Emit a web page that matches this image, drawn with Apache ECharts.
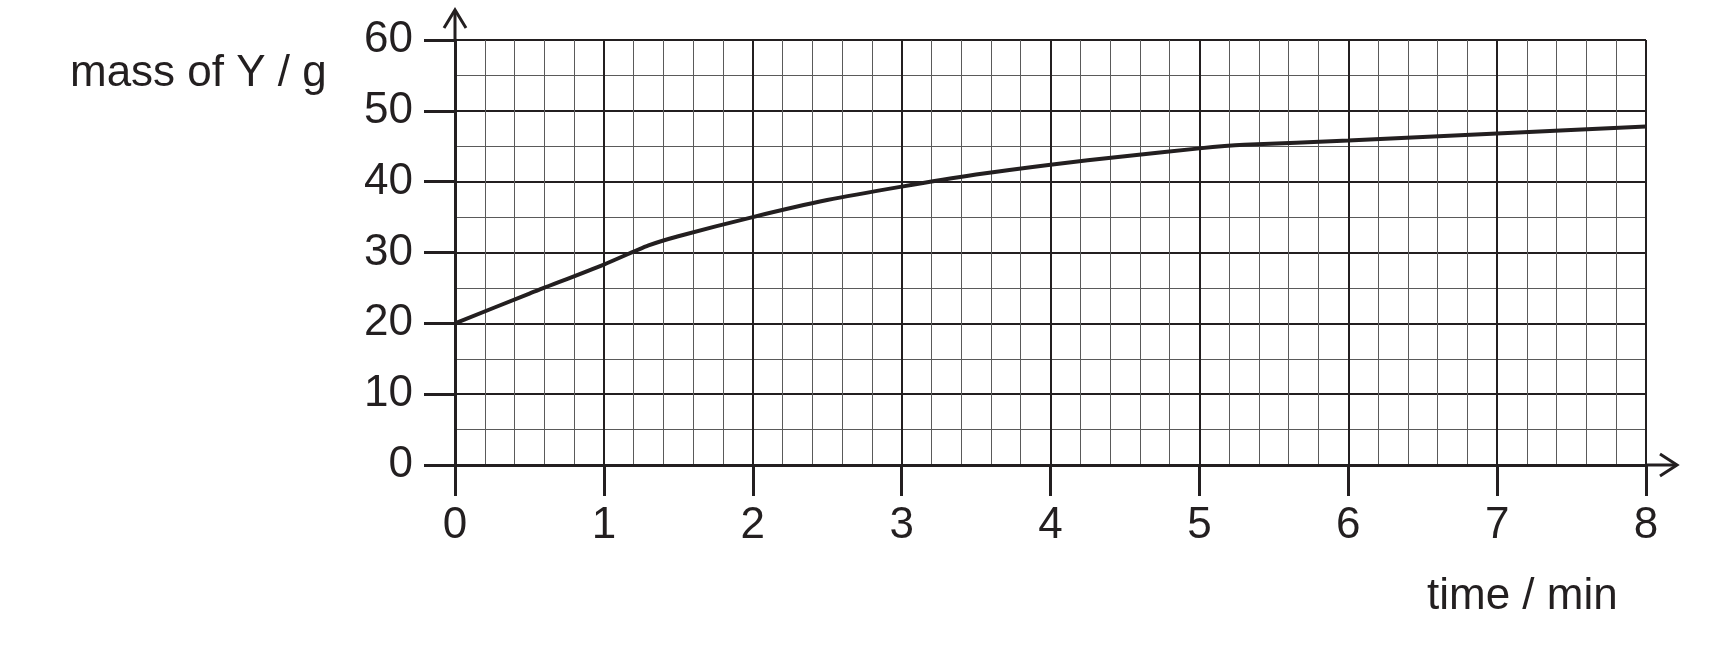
<!DOCTYPE html>
<html>
<head>
<meta charset="utf-8">
<script src="https://cdn.jsdelivr.net/npm/echarts@6/dist/echarts.min.js"></script>
<style>
html,body{margin:0;padding:0;background:#fff;}
#chart{width:1730px;height:668px;}
</style>
</head>
<body>
<div id="chart"></div>
<script>
const timeMin = [0, 0.5, 1, 1.3, 1.5, 2, 2.5, 3, 3.5, 4, 4.5, 5, 5.3, 6, 7, 8];
const massY   = [20, 24.2, 28.3, 31, 32.3, 35, 37.4, 39.3, 41.0, 42.4, 43.6, 44.7, 45.2, 45.8, 46.8, 47.8];
const xTicks = [0, 1, 2, 3, 4, 5, 6, 7, 8];
const yTicks = [0, 10, 20, 30, 40, 50, 60];
const yAxisTitle = 'mass of Y / g';
const xAxisTitle = 'time / min';

(function () {
const ink = '#231f20';
const font = 'Liberation Sans, Arial, sans-serif';

const chart = echarts.init(document.getElementById('chart'), null, {renderer: 'canvas'});

const axisCommon = {
  type: 'value',
  axisLine: {show: true, onZero: false, lineStyle: {color: ink, width: 3}},
  axisTick: {show: true, length: 31, lineStyle: {color: ink, width: 3}},
  axisLabel: {color: ink, fontSize: 44, fontFamily: font},
  splitLine: {show: true, lineStyle: {color: ink, width: 2}},
  minorTick: {show: false},
  minorSplitLine: {show: true, lineStyle: {color: '#5a5a5a', width: 1}}
};

chart.setOption({
  animation: false,
  backgroundColor: '#fff',
  grid: {left: 455, right: 84, top: 40, bottom: 203, containLabel: false},
  xAxis: Object.assign({}, axisCommon, {
    min: xTicks[0], max: xTicks[xTicks.length - 1], interval: 1,
    minorTick: {show: false, splitNumber: 5},
    axisLabel: Object.assign({}, axisCommon.axisLabel, {margin: 39})
  }),
  yAxis: Object.assign({}, axisCommon, {
    min: yTicks[0], max: yTicks[yTicks.length - 1], interval: 10,
    minorTick: {show: false, splitNumber: 2},
    axisLabel: Object.assign({}, axisCommon.axisLabel, {margin: 42})
  }),
  series: [{
    type: 'line',
    data: timeMin.map((t, i) => [t, massY[i]]),
    showSymbol: false,
    smooth: 0.25,
    lineStyle: {color: ink, width: 4},
    z: 5
  }]
});

const pTop = chart.convertToPixel({gridIndex: 0}, [0, yTicks[yTicks.length - 1]]);
const pRight = chart.convertToPixel({gridIndex: 0}, [xTicks[xTicks.length - 1], 0]);
const stroke = {stroke: ink, lineWidth: 3, fill: null};

chart.setOption({
  graphic: [
    {type: 'line', shape: {x1: pTop[0], y1: pTop[1], x2: pTop[0], y2: pTop[1] - 30}, style: stroke},
    {type: 'polyline', shape: {points: [[pTop[0] - 11, pTop[1] - 12], [pTop[0], pTop[1] - 30], [pTop[0] + 11, pTop[1] - 12]]}, style: stroke},
    {type: 'line', shape: {x1: pRight[0], y1: pRight[1], x2: pRight[0] + 31, y2: pRight[1]}, style: stroke},
    {type: 'polyline', shape: {points: [[pRight[0] + 14, pRight[1] - 11], [pRight[0] + 31, pRight[1]], [pRight[0] + 14, pRight[1] + 11]]}, style: stroke},
    {type: 'text', left: 70, top: 52, style: {text: yAxisTitle, fill: ink, font: '44px ' + font}},
    {type: 'text', left: 1427, top: 575, style: {text: xAxisTitle, fill: ink, font: '44px ' + font}}
  ]
});
})();
</script>
</body>
</html>
